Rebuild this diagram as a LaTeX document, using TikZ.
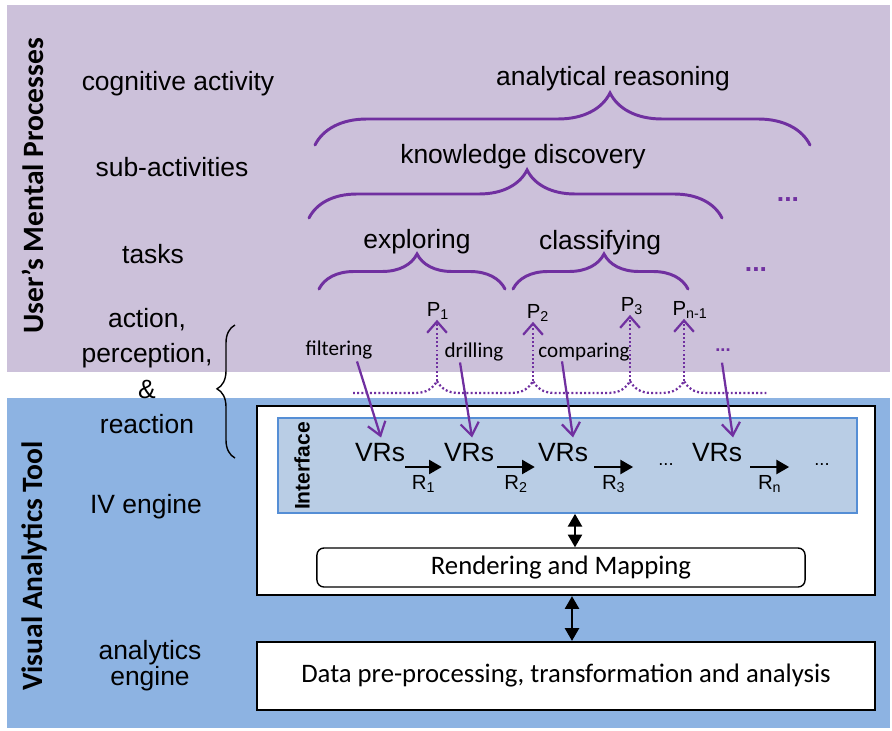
\documentclass[tikz,border=0pt]{standalone}
\usepackage{fontspec}
\setmainfont{Liberation Sans}
\newfontfamily\calib{Carlito}
\usepackage{tikz}
\usetikzlibrary{arrows.meta,positioning,calc,decorations.pathreplacing}
\definecolor{mental}{HTML}{CCC1DA}
\definecolor{vatool}{HTML}{8DB3E2}
\definecolor{ifacefill}{HTML}{B9CDE5}
\definecolor{ifaceline}{HTML}{558ED5}
\definecolor{mind}{HTML}{7030A0}

\begin{document}
\begin{tikzpicture}[x=0.025cm, y=-0.025cm,
  sidelab/.style={font=\calib\bfseries\fontsize{21}{24}\selectfont, rotate=90, inner sep=0pt},
  rowlab/.style={font=\fontsize{18.8}{25}\selectfont, align=center, inner sep=0pt},
  toplab/.style={font=\fontsize{18.8}{22}\selectfont, inner sep=0pt},
  brc/.style 2 args={draw=mind, line width=2.1pt, line cap=round, decorate, decoration={brace, amplitude=#1, aspect=#2}},
  lbrc/.style={draw=black, line width=1pt, decorate, decoration={brace, amplitude=0.45cm, aspect=0.52}},
  mdots/.style={text=mind, font=\bfseries\fontsize{18.8}{22}\selectfont, inner sep=0pt},
  plab/.style={font=\fontsize{14.5}{16}\selectfont, inner sep=0pt},
  actlab/.style={font=\calib\fontsize{15}{18}\selectfont, inner sep=0pt},
  act/.style={draw=mind, line width=1.6pt, -{Straight Barb[length=9pt,width=13pt]}},
  perc/.style={draw=mind, line width=1.6pt, dash pattern=on 1.4pt off 1.6pt},
  parr/.style={perc, -{Straight Barb[length=8pt,width=14pt]}},
  engbox/.style={draw=black, line width=1.6pt, fill=white, minimum width=15.45cm},
  ifacebox/.style={draw=ifaceline, line width=1.2pt, fill=ifacefill},
  rendbox/.style={draw=black, line width=1pt, rounded corners=5pt, fill=white, font=\calib\fontsize{19}{22}\selectfont},
  vr/.style={font=\fontsize{18.8}{22}\selectfont, inner sep=0pt},
  vdots/.style={font=\fontsize{13}{15}\selectfont, inner sep=0pt},
  rlab/.style={font=\fontsize{14.5}{16}\selectfont, inner sep=1pt, below=4pt},
  flow/.style={line width=1.4pt, -{Triangle[length=9pt,width=10pt]}},
  dbl/.style={line width=1.4pt, {Triangle[length=9pt,width=10pt]}-{Triangle[length=9pt,width=10pt]}}
]
\useasboundingbox (0,0) rectangle (892,730);

% ---- panels ----
\fill[mental] (7,5) rectangle (890,372);
\fill[vatool] (7,398) rectangle (890,728);

\node[sidelab] (ump) at (33,186) {User’s Mental Processes};
\node[sidelab] (vat) at (34,566) {Visual Analytics Tool};

% ---- row labels ----
\node[rowlab] (cog) at (178,84) {cognitive activity};
\node[rowlab] (subact) at (172,167) {sub-activities};
\node[rowlab] (tasks) at (153,254) {tasks};
\node[rowlab] (apr) at (147,371) {action,\\perception,\\\&\\reaction};
\node[rowlab] (ive) at (146,507) {IV engine};
\node[rowlab, font=\fontsize{18.8}{17}\selectfont] (ane) at (150,666) {analytics\\engine};

\draw[lbrc] (235,458) -- (235,325);

% ---- hierarchy of activities ----
\node[toplab] (ar) at (613,79) {analytical reasoning};
\node[toplab] (kd) at (523,157) {knowledge discovery};
\node[toplab] (expl) at (417,242) {exploring};
\node[toplab] (clas) at (600,243) {classifying};
\node[mdots] (md1) at (788,200) {...};
\node[mdots] (md2) at (756,270) {...};

\draw[brc={1.3cm}{0.596}] (315,145) -- (810,145);
\draw[brc={1.2cm}{0.528}] (309,218) -- (722,218);
\draw[brc={0.875cm}{0.527}] (319,289) -- (505,289);
\draw[brc={0.875cm}{0.52}] (513,289) -- (688,289);

% ---- tool boxes ----
\node[engbox, minimum height=4.725cm] (iv) at (566,500.5) {};
\node[ifacebox, minimum width=14.475cm, minimum height=2.375cm] (iface) at (567.5,465.5) {};
\node[font=\bfseries\fontsize{15}{18}\selectfont, rotate=90, inner sep=0pt] (ifl) at (302,466) {Interface};
\node[rendbox, minimum width=12.2cm, minimum height=0.975cm] (rend) at (561,567.5) {Rendering and Mapping};
\node[engbox, minimum height=1.7cm, font=\calib\fontsize{19}{22}\selectfont] (data) at (566,676) {Data pre-processing, transformation and analysis};

\draw[dbl] ($(iface.south)+(7.5,0)$) -- ($(rend.north)+(14,0)$);
\draw[dbl] ($(iv.south)+(6,0)$) -- ($(data.north)+(6,0)$);

% ---- visual representations ----
\node[vr] (vr1) at (380,453) {VRs};
\node[vr] (vr2) at (469,453) {VRs};
\node[vr] (vr3) at (563,453) {VRs};
\node[vr] (vr4) at (717,453) {VRs};
\node[vdots] (dt1) at (666,465) {...};
\node[vdots] (dt2) at (822,465) {...};

\draw[flow] ($(vr1.east)+(0,14)$) -- node[rlab] (r1) {R\textsubscript{1}} ($(vr2.west)+(-2,14)$);
\draw[flow] ($(vr2.east)+(3,14)$) -- node[rlab] (r2) {R\textsubscript{2}} ($(vr3.west)+(-3,14)$);
\draw[flow] ($(vr3.east)+(6,14)$) -- node[rlab] (r3) {R\textsubscript{3}} ($(dt1.west)+(-25,2)$);
\draw[flow] ($(vr4.east)+(8,14)$) -- node[rlab] (r4) {R\textsubscript{n}} ($(dt2.west)+(-25,2)$);

% ---- perceptions ----
\node[plab] (p1) at (438,311) {P\textsubscript{1}};
\node[plab] (p2) at (538,313) {P\textsubscript{2}};
\node[plab] (p3) at (632,306) {P\textsubscript{3}};
\node[plab] (p4) at (690,310) {P\textsubscript{n-1}};

\foreach \i/\x in {1/437,2/533,3/630,4/684}
  \coordinate (pk\i) at (\x,381);

\draw[perc] (353,393) \foreach \x in {437,533,630,684} {
  -- (\x-22,393) .. controls (\x-10,393) and (\x-4,388) .. (\x,381)
  .. controls (\x+4,388) and (\x+10,393) .. (\x+22,393) } -- (768,393);

\foreach \i in {1,...,4}
  \draw[parr] (pk\i) -- (pk\i |- p\i.south);

% ---- actions ----
\node[actlab] (filt) at (339,350) {filtering};
\node[actlab] (drill) at (474,352) {drilling};
\node[actlab] (comp) at (584,352) {comparing};
\node[mdots, font=\bfseries\fontsize{13}{15}\selectfont] (adots) at (723,350) {...};

\draw[act] ($(filt.south)+(18,2)$) -- ($(vr1.north)+(1,-6)$);
\draw[act] ($(drill.south)+(-14,1)$) -- ($(vr2.north)+(3,-6)$);
\draw[act] ($(comp.south)+(-22,0)$) -- ($(vr3.north)+(10,-6)$);
\draw[act] ($(adots.south)+(-1,11)$) -- ($(vr4.north)+(16,-6)$);

\end{tikzpicture}
\end{document}
